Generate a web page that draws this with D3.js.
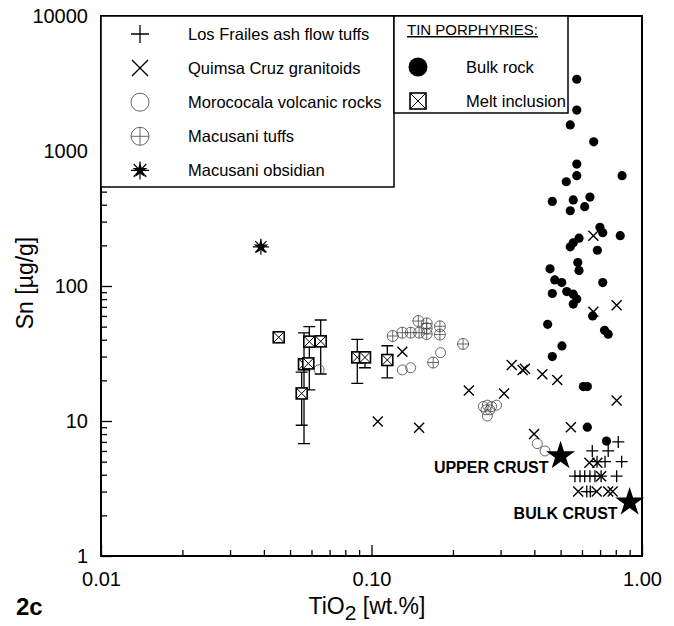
<!DOCTYPE html>
<html>
<head>
<meta charset="utf-8">
<script src="https://cdn.jsdelivr.net/npm/d3@7"></script>
<style>
  body { margin: 0; background: #fff; }
  svg { font-family: Arial, "Liberation Sans", sans-serif; }
</style>
</head>
<body>
<svg id="chart" width="674" height="626"></svg>
<script>
// TiO2 [wt.%], Sn [ug/g]
const losFrailes = [
  [0.817, 7.0], [0.655, 6.0], [0.750, 6.0], [0.841, 5.0], [0.730, 5.0], [0.682, 5.0],
  [0.565, 3.9], [0.590, 3.9], [0.614, 3.9], [0.642, 3.9], [0.670, 3.9], [0.706, 3.9],
  [0.806, 3.9], [0.625, 3.0], [0.644, 3.0]
]
const quimsaCruz = [
  [0.661, 236], [0.661, 64.5], [0.806, 72], [0.130, 32.6], [0.330, 26], [0.362, 23.9],
  [0.369, 24.4], [0.428, 22.2], [0.486, 20.1], [0.229, 16.8], [0.309, 16], [0.806, 14.2],
  [0.1055, 9.9], [0.150, 8.9], [0.399, 8.0], [0.546, 9.0], [0.639, 4.9], [0.684, 4.9],
  [0.706, 3.9], [0.581, 3.0], [0.680, 3.0], [0.750, 3.0], [0.779, 3.0]
]
const morococala = [
  [0.130, 23.9], [0.1396, 24.8], [0.180, 32.1], [0.259, 12.8], [0.268, 13.1], [0.278, 12.8],
  [0.290, 13.1], [0.265, 12.1], [0.274, 12.1], [0.268, 10.9], [0.410, 6.8], [0.438, 6.0],
  [0.064, 24]
]
const macusaniTuffs = [
  [0.1198, 42.6], [0.130, 45.1], [0.1396, 45.1], [0.149, 55], [0.150, 45.1], [0.160, 52.8],
  [0.160, 48.6], [0.160, 44.1], [0.179, 50.3], [0.179, 43.7], [0.218, 37.2], [0.169, 27.1]
]
const macusaniObsidian = [[0.039, 195]]
const bulkRock = [
  [0.574, 3400], [0.574, 2010], [0.543, 1560], [0.663, 1170], [0.574, 800], [0.574, 656],
  [0.525, 592], [0.844, 656], [0.466, 423], [0.557, 434], [0.642, 456], [0.543, 361],
  [0.614, 387], [0.699, 272], [0.716, 248], [0.831, 236], [0.585, 226], [0.557, 209],
  [0.543, 195], [0.684, 184], [0.579, 149], [0.585, 130], [0.457, 134], [0.476, 111],
  [0.505, 106], [0.716, 106], [0.466, 88], [0.527, 91], [0.557, 87], [0.574, 80],
  [0.557, 73.5], [0.657, 60], [0.448, 52], [0.727, 47], [0.750, 44], [0.506, 36],
  [0.466, 30], [0.607, 18], [0.628, 18], [0.628, 9.0], [0.739, 7.1]
]
// [TiO2, Sn, lower, upper]
const meltInclusion = [
  [0.0454, 41.7, null, null], [0.0563, 26.3, 6.8, 45], [0.0589, 38.7, 17, 50],
  [0.0649, 38.9, 22.3, 56], [0.0584, 26.7, null, null], [0.0552, 16.0, 9.3, 23],
  [0.0886, 29.6, 19.0, 40.3], [0.0946, 29.6, 24.8, 32.6], [0.1144, 28.3, 20.9, 36.1]
]
const crustNames = ["UPPER CRUST", "BULK CRUST"]
const crustTio2 = [0.50, 0.90]
const crustSn = [5.5, 2.5]

const xMajor = [0.01, 0.1, 1]
const xLabels = ["0.01", "0.10", "1.00"]
const yMajor = [1, 10, 100, 1000, 10000]

const svg = d3.select("#chart")
const mLeft = 101, mRight = 642, mTop = 16, mBottom = 556

const x = d3.scaleLog().domain([0.01, 1]).range([mLeft, mRight])
const y = d3.scaleLog().domain([1, 10000]).range([mBottom, mTop])

const minorX = []
for (let d = 0.01; d < 1; d *= 10) for (let k = 2; k <= 9; k++) minorX.push(d * k)
const minorY = []
for (let d = 1; d < 10000; d *= 10) for (let k = 2; k <= 9; k++) minorY.push(d * k)

// axes
const gx = svg.append("g").attr("transform", `translate(0,${mBottom})`)
gx.call(d3.axisBottom(x).tickValues(minorX).tickSize(-6).tickFormat(""))
gx.append("g").call(d3.axisBottom(x).tickValues(xMajor).tickSize(-11).tickPadding(16)
  .tickFormat((d, i) => xLabels[i]))
const gy = svg.append("g").attr("transform", `translate(${mLeft},0)`)
gy.call(d3.axisLeft(y).tickValues(minorY).tickSize(-6).tickFormat(""))
gy.append("g").call(d3.axisLeft(y).tickValues(yMajor).tickSize(-11).tickPadding(13)
  .tickFormat(d3.format("d")))
svg.selectAll(".domain").remove()
svg.selectAll(".tick line").attr("stroke", "#000").attr("stroke-width", 1.3)
svg.selectAll(".tick text").attr("font-size", 20).attr("fill", "#000")
  .attr("font-family", "Arial, 'Liberation Sans', sans-serif")

svg.append("rect").attr("x", mLeft).attr("y", mTop).attr("width", mRight - mLeft).attr("height", mBottom - mTop)
  .attr("fill", "none").attr("stroke", "#000").attr("stroke-width", 2)

// axis titles
svg.append("text").attr("transform", "translate(33,283) rotate(-90)").attr("text-anchor", "middle")
  .attr("font-size", 23).text("Sn [µg/g]")
const xt = svg.append("text").attr("x", 367).attr("y", 614).attr("text-anchor", "middle").attr("font-size", 23)
xt.append("tspan").text("TiO")
xt.append("tspan").attr("dy", 6).attr("font-size", 21).text("2")
xt.append("tspan").attr("dy", -6).text(" [wt.%]")
svg.append("text").attr("x", 16).attr("y", 615).attr("font-size", 24).attr("font-weight", "bold").text("2c")

// marker drawers
const plus = (g, s) => g.append("path").attr("d", `M${-s},0H${s}M0,${-s}V${s}`)
  .attr("stroke", "#000").attr("stroke-width", 1.3).attr("fill", "none")
const cross = (g, s) => g.append("path").attr("d", `M${-s},${-s}L${s},${s}M${-s},${s}L${s},${-s}`)
  .attr("stroke", "#000").attr("stroke-width", 1.4).attr("fill", "none")
const ring = (g, r) => g.append("circle").attr("r", r).attr("fill", "none").attr("stroke", "#444").attr("stroke-width", 0.8)
const ringPlus = (g, r) => {
  ring(g, r)
  g.append("path").attr("d", `M${-r},0H${r}M0,${-r}V${r}`).attr("stroke", "#444").attr("stroke-width", 0.8)
}
const dot = (g, r) => g.append("circle").attr("r", r).attr("fill", "#000")
const boxX = (g, s) => {
  g.append("rect").attr("x", -s).attr("y", -s).attr("width", 2 * s).attr("height", 2 * s)
    .attr("fill", "#fff").attr("stroke", "#000").attr("stroke-width", 1.6)
  g.append("path").attr("d", `M${-s},${-s}L${s},${s}M${-s},${s}L${s},${-s}`).attr("stroke", "#000").attr("stroke-width", 1)
}
const asterisk = (g, s) => {
  let d = ""
  for (let k = 0; k < 8; k++) {
    const a = k * Math.PI / 4
    d += `M0,0L${(s * Math.cos(a)).toFixed(2)},${(s * Math.sin(a)).toFixed(2)}`
  }
  g.append("path").attr("d", d).attr("stroke", "#000").attr("stroke-width", 1.2)
  g.append("path").attr("d", d3.symbol(d3.symbolStar, 70)()).attr("fill", "#000")
}

function plot(data, draw, size) {
  data.forEach(d => {
    const g = svg.append("g").attr("transform", `translate(${x(d[0])},${y(d[1])})`)
    draw(g, size)
  })
}

// error bars of melt inclusions
meltInclusion.filter(d => d[2] != null).forEach(d => {
  const cx = x(d[0])
  svg.append("path")
    .attr("d", `M${cx},${y(d[2])}V${y(d[3])}M${cx - 6},${y(d[2])}H${cx + 6}M${cx - 6},${y(d[3])}H${cx + 6}`)
    .attr("stroke", "#000").attr("stroke-width", 1.3).attr("fill", "none")
})

plot(morococala, ring, 5)
plot(macusaniTuffs, ringPlus, 5.5)
plot(bulkRock, dot, 4.6)
plot(quimsaCruz, cross, 5)
plot(losFrailes, plus, 6)
plot(meltInclusion, boxX, 5.5)
plot(macusaniObsidian, asterisk, 8)

// crust stars
crustNames.forEach((name, i) => {
  const cx = x(crustTio2[i]), cy = y(crustSn[i])
  svg.append("path").attr("transform", `translate(${cx},${cy})`)
    .attr("d", d3.symbol(d3.symbolStar, 260)()).attr("fill", "#000")
  svg.append("text").attr("x", cx - 12).attr("y", cy + 17).attr("text-anchor", "end")
    .attr("font-size", 16).attr("font-weight", "bold").text(name)
})

// legends
const legend1 = ["Los Frailes ash flow tuffs", "Quimsa Cruz granitoids", "Morococala volcanic rocks", "Macusani tuffs", "Macusani obsidian"]
const legend1Draw = [g => plus(g, 9), g => cross(g, 8), g => ring(g, 9), g => ringPlus(g, 9), g => asterisk(g, 9)]
svg.append("rect").attr("x", mLeft).attr("y", mTop).attr("width", 293).attr("height", 171)
  .attr("fill", "#fff").attr("stroke", "#000").attr("stroke-width", 1.5)
legend1.forEach((t, i) => {
  const ly = 34 + i * 34.1
  legend1Draw[i](svg.append("g").attr("transform", `translate(140,${ly})`))
  svg.append("text").attr("x", 188).attr("y", ly + 6).attr("font-size", 16.5).text(t)
})

svg.append("rect").attr("x", 394).attr("y", mTop).attr("width", 174).attr("height", 97)
  .attr("fill", "#fff").attr("stroke", "#000").attr("stroke-width", 1.5)
svg.append("text").attr("x", 407).attr("y", 35).attr("font-size", 15).attr("text-decoration", "underline")
  .text("TIN PORPHYRIES:")
dot(svg.append("g").attr("transform", "translate(418,67)"), 9.5)
svg.append("text").attr("x", 466).attr("y", 73).attr("font-size", 16.5).text("Bulk rock")
boxX(svg.append("g").attr("transform", "translate(418,101)"), 8)
svg.append("text").attr("x", 466).attr("y", 107).attr("font-size", 16.5).text("Melt inclusion")
</script>
</body>
</html>
